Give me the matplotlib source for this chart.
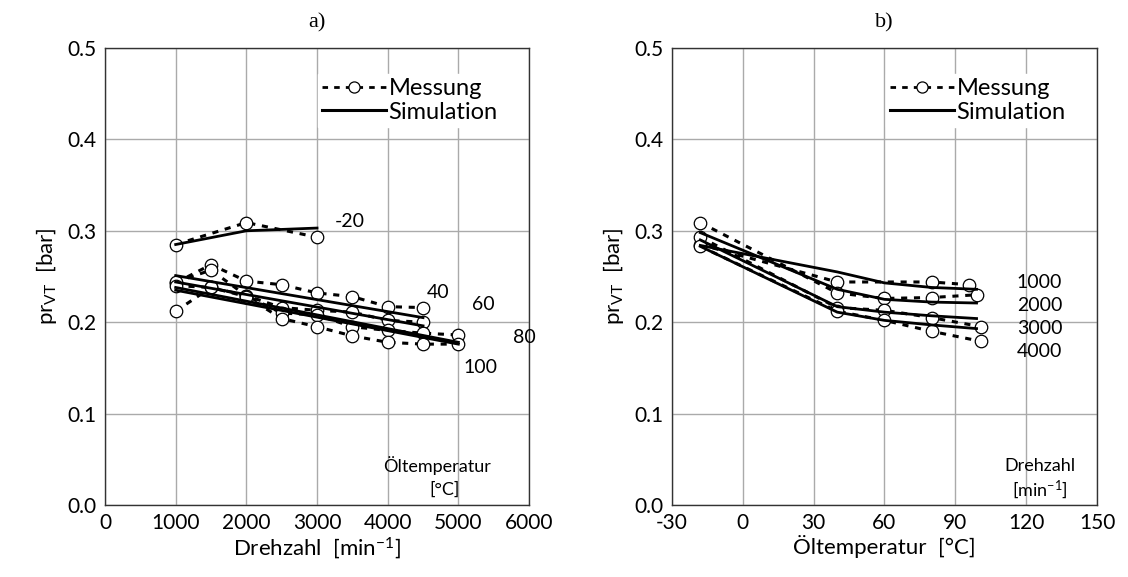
import matplotlib
matplotlib.use("Agg")
import matplotlib.pyplot as plt
from matplotlib.lines import Line2D

plt.rcParams['font.family'] = ['Lato', 'DejaVu Sans']
plt.rcParams['mathtext.fontset'] = 'custom'
plt.rcParams['mathtext.rm'] = 'Lato'
plt.rcParams['mathtext.it'] = 'Lato'
plt.rcParams['axes.unicode_minus'] = False

# a) pressure over engine speed, one curve per oil temperature
speed_meas = [1000, 1500, 2000, 2500, 3000, 3500, 4000, 4500, 5000]
meas_m20_x = [1000, 2000, 3000]
meas_m20 = [0.285, 0.309, 0.293]
meas_40 = [0.243, 0.263, 0.245, 0.241, 0.232, 0.228, 0.217, 0.216]
meas_60 = [0.244, 0.257, 0.229, 0.216, 0.213, 0.211, 0.202, 0.200]
meas_80 = [0.240, 0.238, 0.229, 0.210, 0.208, 0.195, 0.191, 0.188, 0.186]
meas_100 = [0.212, 0.238, 0.228, 0.204, 0.195, 0.185, 0.178, 0.176, 0.176]

sim_m20_x = [1000, 2000, 3000]
sim_m20 = [0.285, 0.300, 0.303]
sim_40_x = [1000, 4500]
sim_40 = [0.251, 0.205]
sim_60_x = [1000, 4500]
sim_60 = [0.244, 0.196]
sim_80_x = [1000, 5000]
sim_80 = [0.238, 0.178]
sim_100_x = [1000, 5000]
sim_100 = [0.235, 0.176]

temp_labels = ['-20', '40', '60', '80', '100']

# b) pressure over oil temperature, one curve per engine speed
temp_1000 = [-18, 40, 80, 96]
meas_1000 = [0.285, 0.244, 0.244, 0.241]
temp_2000 = [-18, 40, 60, 80, 99]
meas_2000 = [0.309, 0.232, 0.226, 0.227, 0.230]
temp_3000 = [-18, 40, 60, 80, 101]
meas_3000 = [0.293, 0.216, 0.213, 0.205, 0.195]
temp_4000 = [-18, 40, 60, 80, 101]
meas_4000 = [0.283, 0.212, 0.202, 0.190, 0.179]

sim_temp = [-18, 40, 60, 80, 99]
sim_1000 = [0.284, 0.255, 0.243, 0.238, 0.236]
sim_2000 = [0.298, 0.236, 0.225, 0.222, 0.221]
sim_3000 = [0.290, 0.217, 0.211, 0.207, 0.204]
sim_4000 = [0.283, 0.211, 0.202, 0.197, 0.193]

speed_labels = ['1000', '2000', '3000', '4000']

meas_style = dict(color='black', lw=2.2, ls=(0, (2, 2.2)), marker='o', ms=9,
                  mfc='white', mec='black', mew=0.9, zorder=3)
sim_style = dict(color='black', lw=2.0, zorder=4)

fig = plt.figure(figsize=(11.28, 5.77), dpi=100)
ax1 = fig.add_axes([0.0931, 0.1248, 0.3759, 0.792])
ax2 = fig.add_axes([0.5957, 0.1248, 0.3768, 0.792])

# left panel
ax1.plot(meas_m20_x, meas_m20, **meas_style)
ax1.plot(speed_meas[:8], meas_40, **meas_style)
ax1.plot(speed_meas[:8], meas_60, **meas_style)
ax1.plot(speed_meas, meas_80, **meas_style)
ax1.plot(speed_meas, meas_100, **meas_style)
ax1.plot(sim_m20_x, sim_m20, **sim_style)
ax1.plot(sim_40_x, sim_40, **sim_style)
ax1.plot(sim_60_x, sim_60, **sim_style)
ax1.plot(sim_80_x, sim_80, **sim_style)
ax1.plot(sim_100_x, sim_100, **sim_style)

for lab, (x, y) in zip(temp_labels, [(3250, 0.310), (4550, 0.233), (5200, 0.219),
                                     (5770, 0.183), (5070, 0.150)]):
    ax1.text(x, y, lab, fontsize=14, va='center', ha='left')
ax1.text(4700, 0.043, 'Öltemperatur', fontsize=13, ha='center', va='center')
ax1.text(4800, 0.017, '[°C]', fontsize=13, ha='center', va='center')

ax1.set_xlim(0, 6000)
ax1.set_xticks(range(0, 6001, 1000))
ax1.set_xlabel('Drehzahl  [min$^{-1}$]', fontsize=16, labelpad=1)
ax1.set_title('a)', fontsize=16, pad=15, family='Liberation Serif')

# right panel
ax2.plot(temp_1000, meas_1000, **meas_style)
ax2.plot(temp_2000, meas_2000, **meas_style)
ax2.plot(temp_3000, meas_3000, **meas_style)
ax2.plot(temp_4000, meas_4000, **meas_style)
ax2.plot(sim_temp, sim_1000, **sim_style)
ax2.plot(sim_temp, sim_2000, **sim_style)
ax2.plot(sim_temp, sim_3000, **sim_style)
ax2.plot(sim_temp, sim_4000, **sim_style)

for lab, y in zip(speed_labels, [0.243, 0.218, 0.193, 0.168]):
    ax2.text(116, y, lab, fontsize=14, va='center', ha='left')
ax2.text(126, 0.043, 'Drehzahl', fontsize=13, ha='center', va='center')
ax2.text(126, 0.017, '[min$^{-1}$]', fontsize=13, ha='center', va='center')

ax2.set_xlim(-30, 150)
ax2.set_xticks(range(-30, 151, 30))
ax2.set_xlabel('Öltemperatur  [°C]', fontsize=16, labelpad=1)
ax2.set_title('b)', fontsize=16, pad=15, family='Liberation Serif')

handles = [Line2D([], [], color='black', lw=2.0, ls=(0, (2, 2.2)), marker='o', ms=8,
                  mfc='white', mec='black', mew=0.9),
           Line2D([], [], color='black', lw=2.2)]
for ax in (ax1, ax2):
    ax.set_ylim(0, 0.5)
    ax.set_yticks([0.0, 0.1, 0.2, 0.3, 0.4, 0.5])
    ax.set_yticklabels(['0.0', '0.1', '0.2', '0.3', '0.4', '0.5'])
    ax.set_ylabel('pr$_{\\mathrm{VT}}$  [bar]', fontsize=16, labelpad=6)
    ax.grid(True, color='#aaaaaa', lw=1.0)
    ax.set_axisbelow(True)
    ax.tick_params(length=0, labelsize=15, pad=6)
    for s in ax.spines.values():
        s.set_color('#333333')
        s.set_linewidth(1.0)
    ax.legend(handles, ['Messung', 'Simulation'], loc='upper right',
              bbox_to_anchor=(0.965, 0.97), fontsize=17, frameon=True,
              framealpha=1, edgecolor='white', fancybox=False,
              handlelength=2.7, handletextpad=0.1, borderpad=0.2,
              labelspacing=0.1)

fig.savefig('out.png', dpi=100)
